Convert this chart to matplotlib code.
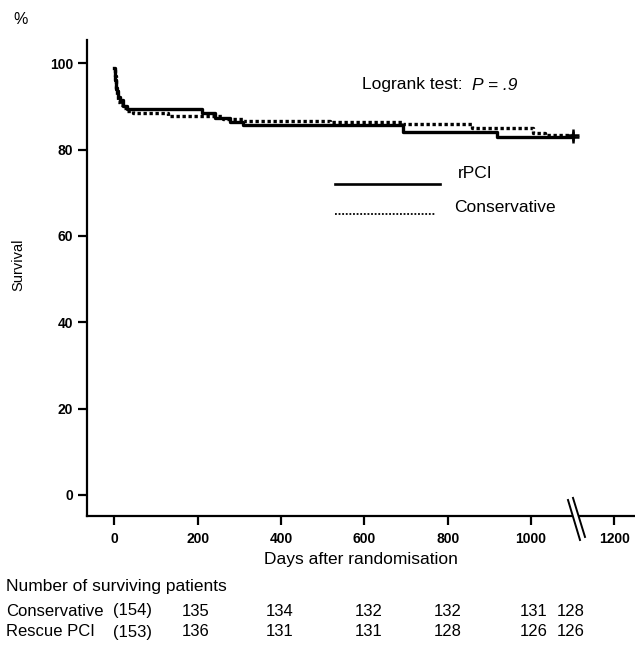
import matplotlib

matplotlib.use("Agg")
import matplotlib.pyplot as plt
from matplotlib.lines import Line2D
from matplotlib.patches import Polygon

plt.rcParams["font.family"] = ["Liberation Sans", "DejaVu Sans"]

W, H = 635, 646

# Kaplan-Meier step points (days, survival %)
rpci_days = [0, 1, 2, 3, 5, 7, 10, 14, 20, 30, 211, 242, 278, 310, 694, 918, 1101]
rpci_surv = [98.8, 97.5, 96.1, 95.4, 94.1, 93.5, 92.2, 91.5, 90.2, 89.4,
             88.5, 87.4, 86.4, 85.7, 84.2, 83.0, 83.0]

cons_days = [0, 1, 3, 5, 7, 10, 14, 20, 30, 45, 129, 260, 310, 518, 694, 859, 1005, 1034, 1101]
cons_surv = [98.5, 97.0, 95.5, 94.2, 92.2, 91.0, 90.3, 89.6, 88.9, 88.4,
             87.8, 87.2, 86.7, 86.3, 86.0, 85.0, 83.8, 83.4, 83.4]

x_ticks = [0, 200, 400, 600, 800, 1000, 1200]
y_ticks = [0, 20, 40, 60, 80, 100]

# numbers at risk table
risk_groups = ["Conservative", "Rescue PCI"]
risk_start = ["(154)", "(153)"]
risk_cons = ["135", "134", "132", "132", "131", "128"]
risk_rpci = ["136", "131", "131", "128", "126", "126"]


def fx(x):
    return x / W


def fy(y):
    return 1 - y / H


fig = plt.figure(figsize=(W / 100, H / 100), dpi=100)
ax = fig.add_axes([fx(87), fy(516), fx(635 - 87), (516 - 40) / H])

ax.step(rpci_days, rpci_surv, where="post", color="black", lw=2.4)
ax.step(cons_days, cons_surv, where="post", color="black", lw=2.4,
        linestyle=(0, (1, 0.8)))
# censor marks at end of follow-up
ax.plot(rpci_days[-1], rpci_surv[-1], marker="+", color="black", ms=8, mew=1.8)
ax.plot(cons_days[-1], cons_surv[-1], marker="+", color="black", ms=8, mew=1.8)

ax.set_xlim(-65.5, 1249.6)
ax.set_ylim(-4.87, 105.4)
ax.set_xticks(x_ticks)
ax.set_yticks(y_ticks)
for s in ("top", "right"):
    ax.spines[s].set_visible(False)
for s in ("left", "bottom"):
    ax.spines[s].set_linewidth(1.6)
ax.tick_params(axis="both", length=6.5, width=1.6, labelsize=10)
ax.tick_params(axis="x", pad=5)
ax.tick_params(axis="y", pad=3.5)
for lab in ax.get_xticklabels() + ax.get_yticklabels():
    lab.set_fontweight("bold")

ax.set_xlabel("Days after randomisation", fontsize=12.5, labelpad=4)
ax.set_ylabel("Survival", fontsize=10.5)
ax.yaxis.set_label_coords((25 - 87) / (635 - 87), (516 - 265) / (516 - 40))

# axis break on x-axis
bt = ax.get_xaxis_transform()
gap = Polygon([(1088.8, 0.0336), (1100.8, 0.038), (1129.6, -0.044), (1117.6, -0.0504)],
              closed=True, facecolor="white", edgecolor="none",
              transform=bt, clip_on=False, zorder=5)
ax.add_patch(gap)
ax.add_line(Line2D([1088.8, 1117.6], [0.0336, -0.0504], color="black", lw=1.4,
                   transform=bt, clip_on=False, zorder=6))
ax.add_line(Line2D([1100.8, 1129.6], [0.038, -0.044], color="black", lw=1.4,
                   transform=bt, clip_on=False, zorder=6))

# logrank annotation
fig.text(fx(362), fy(85), "Logrank test: ", fontsize=12.5, va="center", ha="left")
fig.text(fx(472), fy(85), "P = .9", fontsize=12.5, va="center", ha="left",
         style="italic")

# manual legend
fig.add_artist(Line2D([fx(335), fx(440)], [fy(184), fy(184)], color="black", lw=1.9))
fig.add_artist(Line2D([fx(335), fx(436)], [fy(214), fy(214)], color="black", lw=1.3,
                      linestyle=(0, (1, 1))))
fig.text(fx(458), fy(173), "rPCI", fontsize=12.5, va="center", ha="left")
fig.text(fx(454), fy(208), "Conservative", fontsize=12.5, va="center", ha="left")

fig.text(fx(13), fy(19), "%", fontsize=11.5, va="center", ha="left")

# numbers at risk table
col_x = [196, 280, 369, 448, 534, 571]
fig.text(fx(6), fy(586), "Number of surviving patients", fontsize=12.5,
         va="center", ha="left")
for row_y, name, start, vals in zip([611, 632], risk_groups, risk_start,
                                    [risk_cons, risk_rpci]):
    fig.text(fx(6), fy(row_y), name, fontsize=12, va="center", ha="left")
    fig.text(fx(113), fy(row_y), start, fontsize=12, va="center", ha="left")
    for cx, v in zip(col_x, vals):
        fig.text(fx(cx), fy(row_y), v, fontsize=12, va="center", ha="center")

fig.savefig("out.png", dpi=100)
